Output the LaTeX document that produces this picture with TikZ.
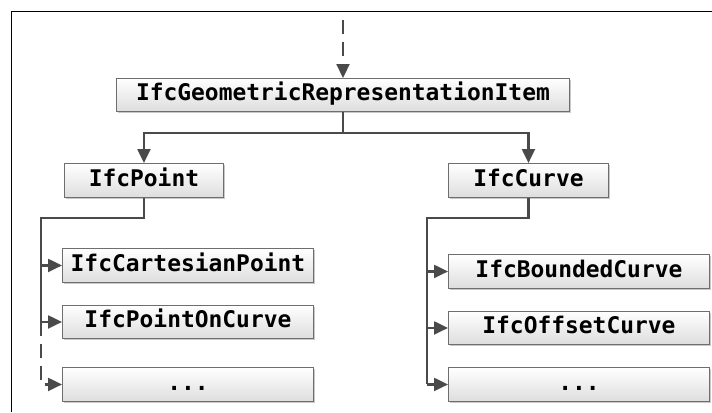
\documentclass[tikz,border=0pt]{standalone}
\usepackage{fontspec}
\setmonofont{DejaVu Sans Mono}
\usetikzlibrary{arrows.meta,shadows,positioning}
\definecolor{lncol}{HTML}{4A4A4A}
\definecolor{bxcol}{HTML}{6E6E6E}
\begin{document}
\begin{tikzpicture}[x=1bp,y=-1bp,
  cls/.style={draw=bxcol, line width=0.9bp, top color=white, bottom color=black!13,
    drop shadow={shadow xshift=1.6bp, shadow yshift=-1.6bp, fill=black!35, opacity=0.6},
    font=\ttfamily\bfseries\fontsize{23}{24}\selectfont, inner sep=0pt,
    text height=16bp, text depth=4bp, anchor=north west},
  conn/.style={draw=lncol, line width=2.2bp},
  arr/.style={conn, -{Triangle[length=14bp,width=13bp]}},
  dsh/.style={dash pattern=on 14bp off 8bp}]
\useasboundingbox (0,0) rectangle (712,412);
\fill[white] (0,0) rectangle (712,412);
\draw[line width=1bp] (712,11) -- (11,11) -- (11,412);

% nodes
\node[cls, minimum width=453bp, minimum height=33bp] (root) at (116,78) {IfcGeometricRepresentationItem};
\node[cls, minimum width=159bp, minimum height=34bp] (pt) at (64,163) {IfcPoint};
\node[cls, minimum width=160bp, minimum height=34bp] (cv) at (448,163) {IfcCurve};
\node[cls, minimum width=251bp, minimum height=34bp] (cp) at (62,248) {IfcCartesianPoint};
\node[cls, minimum width=251bp, minimum height=33bp] (poc) at (62,305) {IfcPointOnCurve};
\node[cls, minimum width=251bp, minimum height=34bp] (ld) at (62,367) {...};
\node[cls, minimum width=261bp, minimum height=34bp] (bc) at (448,254) {IfcBoundedCurve};
\node[cls, minimum width=261bp, minimum height=33bp] (oc) at (448,311) {IfcOffsetCurve};
\node[cls, minimum width=261bp, minimum height=34bp] (rd) at (448,367) {...};

% coordinates
\coordinate (top) at (343,20);
\coordinate (hbar) at (343,133);
\coordinate (lb) at (41,218);
\coordinate (rb) at (427,218);

% connectors
\draw[arr, dsh] (top) -- (root.north -| top);
\draw[conn] (root.south -| hbar) -- (hbar);
\draw[arr] (hbar) -| (pt.north);
\draw[arr] (hbar) -| (cv.north);

\draw[conn] (pt.south) |- (lb) -- (lb |- poc.west);
\draw[arr] (lb |- cp.west) -- (cp.west);
\draw[arr] (lb |- poc.west) -- (poc.west);
\draw[arr, dsh] (lb |- poc.west) -- (lb |- ld.west) -- (ld.west);

\draw[conn] (cv.south) |- (rb) -- (rb |- rd.west);
\draw[arr] (rb |- bc.west) -- (bc.west);
\draw[arr] (rb |- oc.west) -- (oc.west);
\draw[arr] (rb |- rd.west) -- (rd.west);
\end{tikzpicture}
\end{document}
